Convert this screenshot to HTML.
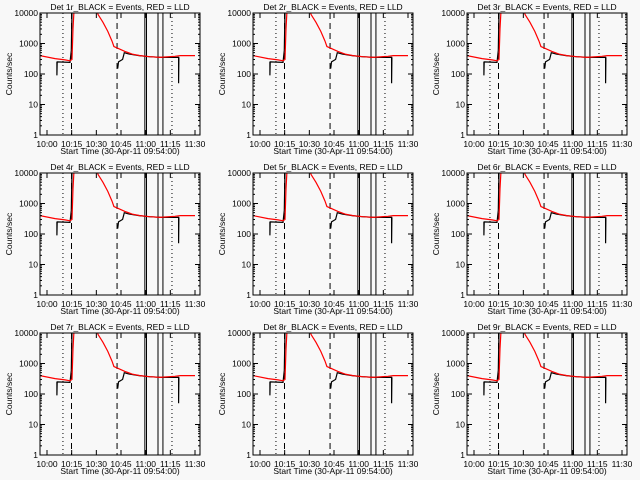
<!DOCTYPE html>
<html><head><meta charset="utf-8"><style>
html,body{margin:0;padding:0;background:#f8f8f8}
svg{display:block}
text{font-family:"Liberation Sans",sans-serif;font-size:8.5px;fill:#000}
</style></head><body>
<svg id="c" width="640" height="480"></svg>
<script>
// minutes after 10:00; null = gap in data
const detectors = [1,2,3,4,5,6,7,8,9];
const xTickLabels = ["10:00","10:15","10:30","10:45","11:00","11:15","11:30"];
const xTickMinutes = [0,15,30,45,60,75,90];
const yTickValues = [1,10,100,1000,10000];
const yTickLabels = ["1","10","100","1000","10000"];
const redTimes = [-4.3,4.9,11,14,15.2,15.8,16.4,30.4,31,34,37,39.5,40.7,43,47.4,51.7,56.5,62.6,68.7,71.7,77.8,81,90];
const redValues = [400,320,290,270,300,3000,12000,12000,9000,5000,2500,1200,800,700,550,450,400,370,350,360,380,400,400];
const blackTimes = [6,6,6.2,14,14.8,15.2,16,null,43,43,43.5,45,46,47,50,56,62,70,80,80,80.2];
const blackValues = [250,90,250,240,600,12000,12000,null,150,150,250,280,300,500,450,400,370,350,350,50,350];
const dottedLines = [9.7,76,93];
const dashedLines = [14.9,42.6];
const solidLines = [59.5,60.5,67.5,70.5];

const svg = document.getElementById('c');
const NS = 'http://www.w3.org/2000/svg';
function mk(tag, attrs, parent){const e=document.createElementNS(NS,tag);for(const k in attrs)e.setAttribute(k,attrs[k]);parent.appendChild(e);return e;}

detectors.forEach((d,i)=>{
  const ox = Math.round((i%3)*213.33), oy = Math.floor(i/3)*160;
  const L=ox+40,R=ox+200,T=oy+13,B=oy+135;
  const xs = t => ox+47+t*148/90;
  const ys = v => B - Math.log10(v)*30.5;
  const g = mk('g',{},svg);
  
  
  const cp = mk('clipPath',{id:'cp'+i},g);
  mk('rect',{x:L,y:T,width:R-L,height:B-T},cp);
  const title = mk('text',{x:ox+120,y:oy+10,'text-anchor':'middle'},g);
  title.textContent='Det '+d+'r_BLACK = Events, RED = LLD';
  
  
  const vl=(arr,dash)=>arr.forEach(t=>{const l=mk('line',{x1:xs(t),x2:xs(t),y1:T,y2:B,stroke:'#000','stroke-width':1,'stroke-dasharray':dash},g);
    });
  vl(dottedLines,'1,3');vl(dashedLines,'6,4');vl(solidLines,'none');
  const line=(tt,vv,col,name)=>{
    let segs=[[]];
    tt.forEach((t,k)=>{ if(t===null||vv[k]===null){segs.push([]);} else segs[segs.length-1].push(xs(t).toFixed(1)+','+ys(vv[k]).toFixed(1)); });
    segs.filter(s=>s.length>1).forEach(s=>{
      const p=mk('polyline',{points:s.join(' '),fill:'none',stroke:col,'stroke-width':1.2,'clip-path':'url(#cp'+i+')'},g);
      });
  };
  line(blackTimes,blackValues,'#000','events-series');
  line(redTimes,redValues,'#f00','lld-series');
  const bx=mk('rect',{x:L,y:T,width:R-L,height:B-T,fill:'none',stroke:'#000','stroke-width':1},g);
  
  yTickValues.forEach((v,k)=>{const y=ys(v);
    mk('line',{x1:L,x2:L+5,y1:y,y2:y,stroke:'#000'},g);mk('line',{x1:R-5,x2:R,y1:y,y2:y,stroke:'#000'},g);
    for(let m=2;m<10&&v<10000;m++){const y2=ys(v*m);mk('line',{x1:L,x2:L+2,y1:y2,y2:y2,stroke:'#000'},g);mk('line',{x1:R-2,x2:R,y1:y2,y2:y2,stroke:'#000'},g);}
    const t=mk('text',{x:L-2,y:y+3,'text-anchor':'end'},g);t.textContent=yTickLabels[k];
    });
  xTickMinutes.forEach((m,k)=>{const x=xs(m);
    mk('line',{x1:x,x2:x,y1:B,y2:B-5,stroke:'#000'},g);mk('line',{x1:x,x2:x,y1:T,y2:T+5,stroke:'#000'},g);
    const t=mk('text',{x:x,y:B+12,'text-anchor':'middle'},g);t.textContent=xTickLabels[k];
    });
  const xt=mk('text',{x:ox+120,y:oy+154,'text-anchor':'middle'},g);xt.textContent='Start Time (30-Apr-11 09:54:00)';
  
  const yt=mk('text',{x:ox+12,y:oy+74,'text-anchor':'middle',transform:'rotate(-90 '+(ox+12)+' '+(oy+74)+')'},g);yt.textContent='Counts/sec';
  
});
</script>
</body></html>
